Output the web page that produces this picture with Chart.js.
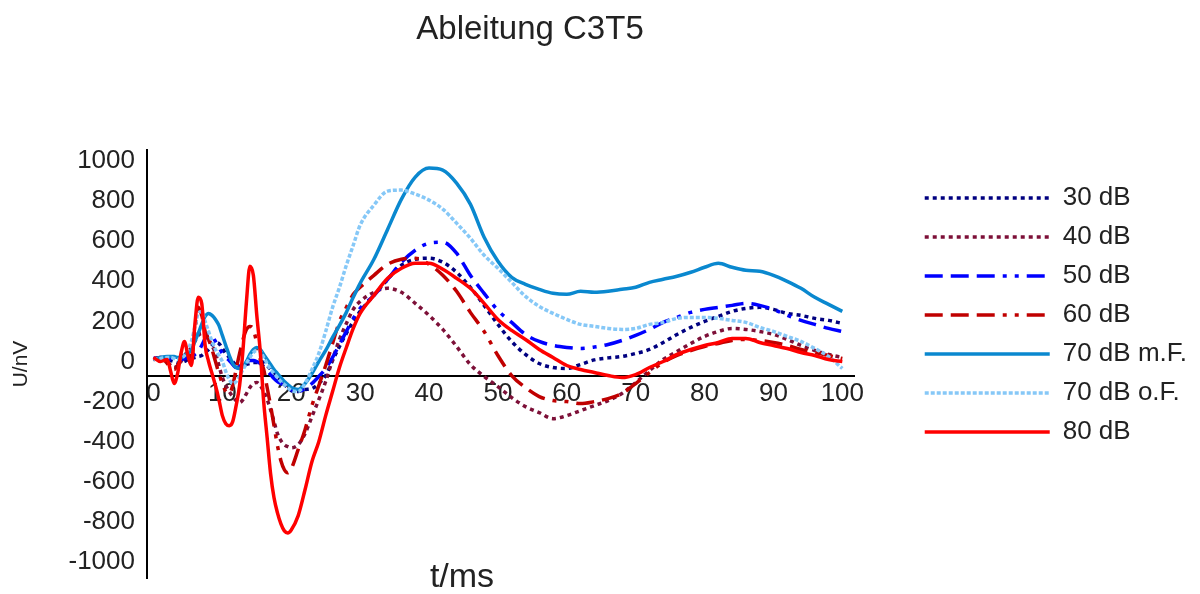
<!DOCTYPE html>
<html>
<head>
<meta charset="utf-8">
<script src="https://cdn.jsdelivr.net/npm/chart.js@4.4.1/dist/chart.umd.min.js"></script>
<style>
  body { margin: 0; background: #fff; }
  #wrap { width: 1200px; height: 594px; }
</style>
</head>
<body>
<div id="wrap"><canvas id="evokedChart"></canvas></div>
<script>
var chartTitle = 'Ableitung C3T5';
var xTitle = 't/ms';
var yTitle = 'U/nV';

var times = [0, 1, 2,
  2.5, 3, 3.5, 4, 4.5, 5, 5.5, 6, 6.5, 7, 7.5, 8, 8.5, 9, 9.5, 10, 10.5, 11,
  11.5, 12, 12.5, 13, 13.5, 14, 14.5, 15, 15.5, 16, 16.5, 17, 17.5, 18, 18.5, 19, 19.5, 20,
  21, 22, 23, 24, 25, 26, 27, 28, 29, 30,
  32, 34, 36, 38, 40, 42, 44, 46, 48, 50, 52, 54, 56, 58, 60, 62, 64, 66, 68, 70,
  72, 74, 76, 78, 80, 82, 84, 86, 88, 90, 92, 94, 96, 98, 100];

var xTicks = [0, 10, 20, 30, 40, 50, 60, 70, 80, 90, 100];
var yTicks = [-1000, -800, -600, -400, -200, 0, 200, 400, 600, 800, 1000];

var seriesNames = ['30 dB', '40 dB', '50 dB', '60 dB', '70 dB m.F.', '70 dB o.F.', '80 dB'];

var db30 = [10, 20, 10,
  5, 0, -5, -5, 0, 10, 15, 20, 25, 30, 45, 60, 80, 95, 90, 65, 40, 20,
  0, -20, -30, -25, -15, -10, -5, -5, 0, -5, -20, -40, -55, -75, -95, -115, -130, -145,
  -150, -140, -135, -110, -70, 5, 75, 140, 200, 250,
  330, 410, 480, 510, 515, 495, 445, 370, 280, 185, 100, 35, -10, -30, -35, -15, 8, 18, 25, 40,
  60, 95, 135, 170, 200, 225, 250, 265, 270, 260, 240, 230, 215, 205, 190];

var db40 = [10, 15, 0,
  -20, -30, -20, 0, 30, 50, 70, 100, 130, 140, 140, 110, 80, 40, -20, -80, -120, -150,
  -175, -195, -205, -190, -160, -130, -110, -105, -120, -150, -190, -240, -300, -360, -395, -415, -425, -430,
  -415, -360, -275, -190, -100, 10, 110, 190, 260, 300,
  345, 365, 345, 290, 230, 160, 75, -15, -75, -125, -180, -225, -255, -285, -270, -245, -220, -195, -160, -105,
  -45, 10, 50, 90, 125, 150, 165, 160, 150, 135, 110, 80, 55, 35, 20];

var db50 = [15, 20, 15,
  10, 5, 5, 10, 15, 20, 25, 35, 50, 80, 115, 145, 130, 100, 70, 40, 20, 5,
  -15, -30, -25, -10, 0, 5, 5, 0, -10, -25, -45, -65, -85, -100, -110, -120, -130, -140,
  -150, -135, -110, -75, -35, 20, 85, 150, 215, 265,
  330, 410, 495, 555, 590, 595, 540, 430, 340, 255, 195, 135, 100, 80, 70, 65, 72, 85, 105, 130,
  160, 195, 220, 245, 260, 270, 280, 290, 280, 260, 230, 205, 185, 165, 150];

var db60 = [10, 20, -10,
  -30, -40, -20, 20, 50, 40, 20, 140, 270, 230, 150, 110, 60, 0, -60, -110, -150, -160,
  -120, -40, 40, 110, 160, 175, 160, 90, 10, -40, -130, -220, -320, -420, -495, -540, -555, -535,
  -440, -340, -220, -120, -20, 90, 200, 270, 335, 370,
  430, 485, 510, 515, 485, 430, 350, 245, 150, 30, -70, -130, -175, -195, -200, -210, -200, -185, -160, -110,
  -55, -5, 30, 55, 75, 90, 105, 110, 105, 95, 80, 60, 45, 30, 15];

var db70mF = [10, 20, 25,
  25, 25, 20, 20, 30, 40, 60, 100, 140, 185, 225, 240, 230, 210, 180, 130, 80, 30,
  -10, -30, -35, -25, 0, 35, 60, 70, 60, 35, 10, -15, -40, -60, -80, -100, -115, -130,
  -140, -110, -60, 0, 55, 120, 180, 245, 320, 390,
  510, 660, 810, 920, 965, 955, 890, 785, 620, 500, 420, 385, 360, 340, 335, 350, 345, 350, 360, 370,
  395, 410, 425, 445, 470, 490, 470, 455, 450, 430, 400, 365, 320, 285, 250];

var db70oF = [10, 15, 20,
  20, 15, 10, 15, 30, 60, 100, 170, 240, 250, 200, 150, 100, 60, 30, 0, -50, -90,
  -110, -100, -70, -40, -10, 20, 45, 55, 50, 20, -10, -40, -60, -80, -100, -115, -130, -145,
  -150, -110, -40, 40, 150, 270, 370, 480, 580, 680,
  780, 850, 855, 835, 805, 760, 690, 615, 530, 465, 395, 325, 275, 240, 210, 185, 175, 165, 160, 165,
  185, 195, 215, 220, 220, 215, 205, 195, 170, 150, 125, 100, 65, 25, -35];

var db80 = [20, 0, 10,
  -50, -110, -60, 40, 100, 30, -20, 180, 320, 290, 80, 0, -60, -120, -190, -270, -310, -320,
  -300, -220, -120, 60, 300, 475, 430, 230, 50, -200, -380, -560, -680, -755, -810, -845, -855, -840,
  -770, -640, -500, -400, -270, -150, -30, 70, 165, 240,
  330, 415, 465, 490, 490, 460, 415, 365, 290, 210, 155, 110, 60, 20, -20, -40, -55, -70, -80, -65,
  -30, 0, 35, 60, 80, 95, 115, 115, 95, 80, 65, 45, 30, 10, 0];

var seriesValues = [db30, db40, db50, db60, db70mF, db70oF, db80];
var seriesColors = ['#000080', '#7d1038', '#0000ff', '#c00000', '#0a88cf', '#86c8f7', '#ff0000'];
var seriesDash = [
  [4, 4], [4, 4], [18, 8, 18, 8, 18, 8, 4, 8, 4, 8], [18, 8, 18, 8, 18, 8, 4, 8, 4, 8],
  [], [4, 2], []
];

Chart.defaults.font.family = "'Liberation Sans', Arial, sans-serif";
Chart.defaults.color = '#222';

var datasets = seriesNames.map(function (name, i) {
  return {
    label: name,
    data: times.map(function (t, k) { return { x: t, y: seriesValues[i][k] }; }),
    borderColor: seriesColors[i],
    backgroundColor: seriesColors[i],
    borderWidth: 3.5,
    borderDash: seriesDash[i],
    pointRadius: 0,
    pointStyle: 'line',
    cubicInterpolationMode: 'monotone',
    fill: false,
    order: seriesNames.length - i
  };
});

var freeText = {
  id: 'freeText',
  afterDraw: function (chart) {
    var c = chart.ctx;
    c.save();
    c.fillStyle = '#222';
    c.textAlign = 'center';
    c.textBaseline = 'middle';
    c.font = "33px 'Liberation Sans', Arial, sans-serif";
    c.fillText(chartTitle, 530, 30);
    c.font = "34px 'Liberation Sans', Arial, sans-serif";
    c.fillText(xTitle, 462, 578);
    c.restore();
  }
};

var ctx = document.getElementById('evokedChart').getContext('2d');
var evokedChart = new Chart(ctx, {
  type: 'line',
  data: { datasets: datasets },
  plugins: [freeText],
  options: {
    responsive: true,
    maintainAspectRatio: false,
    animation: false,
    layout: { padding: { top: 150, bottom: 16, left: 0, right: 3 } },
    plugins: {
      title: { display: false },
      tooltip: { enabled: false },
      legend: {
        position: 'right',
        align: 'start',
        title: { display: true, text: '', font: { size: 10 }, padding: { top: 0, bottom: 10 } },
        labels: {
          usePointStyle: true,
          pointStyle: 'line',
          pointStyleWidth: 125,
          padding: 13,
          color: '#222',
          font: { size: 26 },
          sort: function (a, b) { return a.datasetIndex - b.datasetIndex; },
          generateLabels: function (chart) {
            var items = Chart.defaults.plugins.legend.labels.generateLabels(chart);
            items.forEach(function (it) {
              var ds = chart.data.datasets[it.datasetIndex];
              it.lineDash = ds.borderDash;
              it.strokeStyle = ds.borderColor;
              it.lineWidth = ds.borderWidth;
              it.pointStyle = 'line';
            });
            return items;
          }
        }
      }
    },
    scales: {
      x: {
        type: 'linear',
        min: -0.94,
        max: 101.8,
        position: { y: -70 },
        grid: { display: false, drawTicks: false },
        border: { display: true, color: '#000', width: 2 },
        afterBuildTicks: function (s) { s.ticks = xTicks.map(function (v) { return { value: v }; }); },
        ticks: { autoSkip: false, maxRotation: 0, padding: 3, color: '#222', font: { size: 26 },
          callback: function (v) { return String(v); } }
      },
      y: {
        type: 'linear',
        min: -1080,
        max: 1055,
        position: 'left',
        grid: { display: false, drawTicks: false },
        border: { display: true, color: '#000', width: 2 },
        afterBuildTicks: function (s) { s.ticks = yTicks.map(function (v) { return { value: v }; }); },
        afterFit: function (s) { s.width = 147; s.paddingTop = 0; s.paddingBottom = 0; },
        ticks: { autoSkip: false, padding: 12, color: '#222', font: { size: 26 },
          callback: function (v) { return String(v); } },
        title: { display: true, text: yTitle, color: '#222', font: { size: 21 }, padding: { top: 9, bottom: 0 } }
      },
      spacer: {
        type: 'linear',
        position: 'right',
        display: false,
        afterFit: function (s) { s.width = 57; }
      }
    }
  }
});
</script>
</body>
</html>
